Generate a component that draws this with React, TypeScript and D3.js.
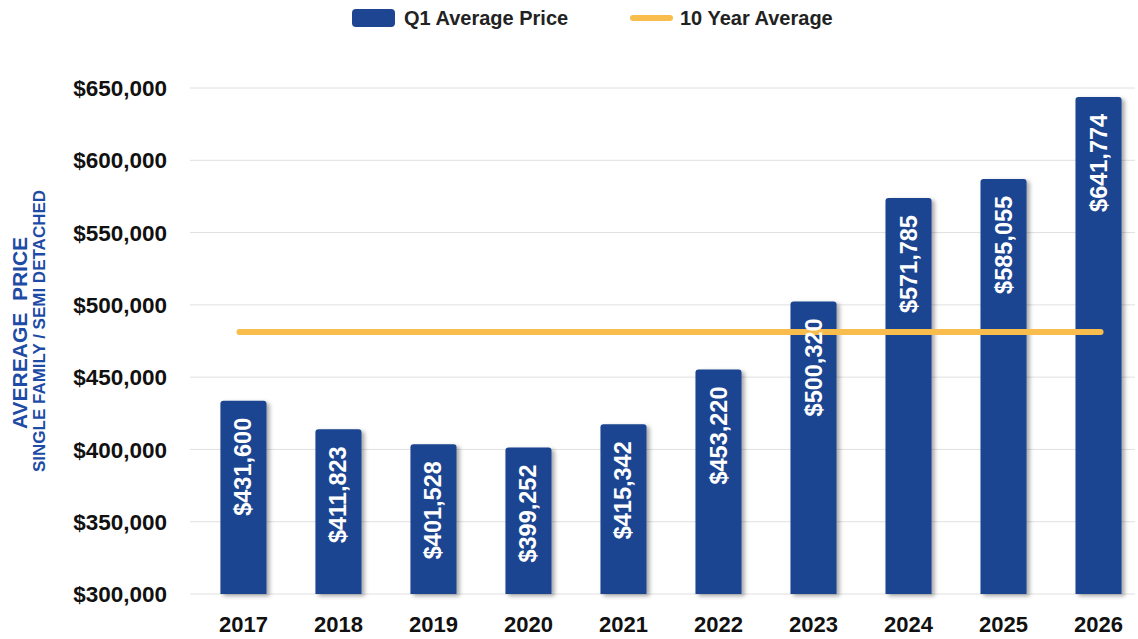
import React from "react";
import * as d3 from "d3";

const years = ["2017", "2018", "2019", "2020", "2021", "2022", "2023", "2024", "2025", "2026"];
const q1Prices = [431600, 411823, 401528, 399252, 415342, 453220, 500320, 571785, 585055, 641774];
const tenYearAverage = 481170;
const yTicks = [300000, 350000, 400000, 450000, 500000, 550000, 600000, 650000];

const W = 1138;
const H = 639;
const left = 196;
const right = 1146;
const top = 88;
const bottom = 594;
const BAR = "#1D4591";
const GOLD = "#F9BD4E";
const FONT = "'Liberation Sans', Arial, sans-serif";

export default function App() {
  const x = d3.scaleBand<string>().domain(years).range([left, right]).paddingInner(0.515).paddingOuter(0.257);
  const y = d3.scaleLinear().domain([300000, 650000]).range([bottom, top]);
  const fmt = (v: number) => "$" + d3.format(",")(v);
  const bw = x.bandwidth();
  const r = 3;
  const lift = 3;
  const barPath = (x0: number, y0: number, w: number, h: number) =>
    `M${x0},${y0 + h} V${y0 + r} Q${x0},${y0} ${x0 + r},${y0} H${x0 + w - r} Q${x0 + w},${y0} ${x0 + w},${y0 + r} V${y0 + h} Z`;
  const cx = (d: string) => (x(d) as number) + bw / 2;

  return (
    <svg width={W} height={H} style={{ position: "absolute", left: 0, top: 0, background: "#fff" }} fontFamily={FONT}>
      <defs>
        <filter id="sh" x="-30%" y="-10%" width="160%" height="130%">
          <feDropShadow dx="3" dy="2" stdDeviation="2" floodColor="#000" floodOpacity="0.35" />
        </filter>
      </defs>
      <rect width={W} height={H} fill="#fff" />
      {/* legend */}
      <rect x={352} y={9} width={43} height={18} rx={4} fill={BAR} />
      <text x={404} y={25} fontSize={20} fontWeight="bold" fill="#222">Q1 Average Price</text>
      <line x1={633} x2={670} y1={18} y2={18} stroke={GOLD} strokeWidth={6} strokeLinecap="round" />
      <text x={680} y={25} fontSize={20} fontWeight="bold" fill="#222">10 Year Average</text>

      {/* grid */}
      {yTicks.map((t) => (
        <g key={t}>
          <line x1={190} x2={1135} y1={y(t)} y2={y(t)} stroke="#e0e0e0" strokeWidth={1} />
          <text x={167} y={y(t)} dy="0.36em" textAnchor="end" fontSize={22.5} fontWeight="bold" fill="#111">
            {fmt(t)}
          </text>
        </g>
      ))}

      {/* axis title */}
      <text transform={`translate(27,${333}) rotate(-90)`} textAnchor="middle" fontSize={21} fontWeight="bold" fill="#1D4BA5">
        {"AVEREAGE\u00A0 PRICE"}
      </text>
      <text transform={`translate(45,${331}) rotate(-90)`} textAnchor="middle" fontSize={17} fontWeight="bold" fill="#1D4BA5">
        SINGLE FAMILY / SEMI DETACHED
      </text>

      {/* bars */}
      {years.map((d, i) => (
        <path key={d} d={barPath(x(d) as number, y(q1Prices[i]) - lift, bw, bottom - y(q1Prices[i]) + lift)} fill={BAR} filter="url(#sh)" />
      ))}

      {/* average line */}
      <line x1={cx(years[0]) - 4} x2={cx(years[years.length - 1]) + 2} y1={y(tenYearAverage)} y2={y(tenYearAverage)} stroke={GOLD} strokeWidth={6} strokeLinecap="round" />

      {/* value labels */}
      {years.map((d, i) => (
        <text key={d} transform={`translate(${cx(d) + 8},${y(q1Prices[i]) + 14}) rotate(-90)`} textAnchor="end" fontSize={23.5} fontWeight="bold" fill="#fff">
          {fmt(q1Prices[i])}
        </text>
      ))}

      {/* x labels */}
      {years.map((d) => (
        <text key={d} x={cx(d)} y={632} textAnchor="middle" fontSize={22} fontWeight="bold" fill="#111">
          {d}
        </text>
      ))}
    </svg>
  );
}
